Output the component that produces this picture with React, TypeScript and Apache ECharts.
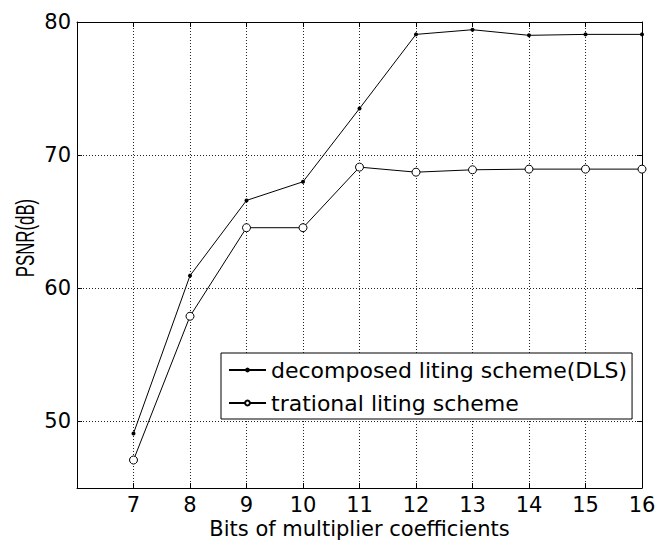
import React, { useEffect, useRef } from "react";
import * as echarts from "echarts";

const bits = [7, 8, 9, 10, 11, 12, 13, 14, 15, 16];
const dlsPsnr = [49.1, 60.95, 66.6, 68.0, 73.5, 79.07, 79.42, 79.0, 79.07, 79.07];
const tradPsnr = [47.1, 57.9, 64.55, 64.55, 69.1, 68.72, 68.9, 68.95, 68.95, 68.95];
const xTickLabels = [7, 8, 9, 10, 11, 12, 13, 14, 15, 16];
const yTickLabels = [50, 60, 70, 80];
const yGridValues = [50, 60, 70];
const seriesNames = ["decomposed liting scheme(DLS)", "trational liting scheme"];

const FONT = "DejaVu Sans";

export default function App() {
  const ref = useRef<HTMLDivElement>(null);
  useEffect(() => {
    if (!ref.current) return;
    const chart = echarts.init(ref.current, undefined, { renderer: "svg" });
    const gridStyle = { type: [1, 2] as any, color: "#222", width: 1 };
    const option: any = {
      animation: false,
      backgroundColor: "#fff",
      grid: { left: 77, top: 22, right: 24, bottom: 52, containLabel: false, outerBoundsMode: "none" },
      legend: {
        left: 221,
        top: 353,
        orient: "vertical",
        padding: [6, 5, 5, 7],
        itemWidth: 37,
        itemHeight: 6,
        itemGap: 11,
        borderColor: "#000",
        borderWidth: 1,
        borderRadius: 0,
        backgroundColor: "#fff",
        textStyle: { fontFamily: FONT, fontSize: 22, color: "#000", lineHeight: 22 },
        data: seriesNames,
      },
      xAxis: [
        {
          type: "value",
          min: 6,
          max: 16,
          interval: 1,
          name: "Bits of multiplier coefficients",
          nameLocation: "middle",
          nameMoveOverlap: false,
          nameGap: 30,
          nameTextStyle: { fontFamily: FONT, fontSize: 21, lineHeight: 21, color: "#000" },
          axisLine: { onZero: false, lineStyle: { color: "#000", width: 1 } },
          axisTick: { inside: true, length: 5, lineStyle: { color: "#000" }, customValues: xTickLabels },
          axisLabel: { customValues: xTickLabels, fontFamily: FONT, fontSize: 21, color: "#000", margin: 6 },
          splitLine: { show: true, lineStyle: gridStyle },
        },
        {
          type: "value",
          position: "top",
          min: 6,
          max: 16,
          interval: 1,
          axisLine: { onZero: false, lineStyle: { color: "#000", width: 1 } },
          axisTick: { inside: true, length: 5, lineStyle: { color: "#000" }, customValues: xTickLabels },
          axisLabel: { show: false },
          splitLine: { show: false },
        },
      ],
      yAxis: [
        {
          type: "value",
          min: 45,
          max: 80,
          interval: 5,
          axisLine: { onZero: false, lineStyle: { color: "#000", width: 1 } },
          axisTick: { inside: true, length: 5, lineStyle: { color: "#000" }, customValues: yTickLabels },
          axisLabel: { customValues: yTickLabels, fontFamily: FONT, fontSize: 21, color: "#000", margin: 6 },
          splitLine: { show: false },
        },
        {
          type: "value",
          position: "right",
          min: 45,
          max: 80,
          interval: 5,
          axisLine: { onZero: false, lineStyle: { color: "#000", width: 1 } },
          axisTick: { inside: true, length: 5, lineStyle: { color: "#000" }, customValues: yTickLabels },
          axisLabel: { show: false },
          splitLine: { show: false },
        },
      ],
      graphic: [
        {
          type: "text",
          x: 25,
          y: 238,
          rotation: Math.PI / 2,
          scaleX: 0.73,
          scaleY: 1.12,
          style: {
            text: "PSNR(dB)",
            fontFamily: "Liberation Sans",
            fontSize: 23,
            fill: "#000",
            align: "center",
            verticalAlign: "middle",
          },
        },
      ],
      series: [
        {
          name: seriesNames[0],
          type: "line",
          xAxisIndex: 0,
          yAxisIndex: 0,
          data: bits.map((b, i) => [b, dlsPsnr[i]]),
          symbol: "circle",
          symbolSize: 4,
          lineStyle: { color: "#000", width: 1 },
          itemStyle: { color: "#000" },
          z: 3,
          markLine: {
            silent: true,
            symbol: "none",
            label: { show: false },
            lineStyle: gridStyle,
            emphasis: { disabled: true },
            z: 1,
            data: yGridValues.map((v) => ({ yAxis: v })),
          },
        },
        {
          name: seriesNames[1],
          type: "line",
          xAxisIndex: 0,
          yAxisIndex: 0,
          data: bits.map((b, i) => [b, tradPsnr[i]]),
          symbol: "circle",
          symbolSize: 8,
          lineStyle: { color: "#000", width: 1 },
          itemStyle: { color: "#fff", borderColor: "#000", borderWidth: 1 },
          z: 3,
        },
      ],
    };
    chart.setOption(option);
    return () => chart.dispose();
  }, []);
  return <div ref={ref} style={{ width: 666, height: 540, position: "absolute", left: 0, top: 0 }} />;
}
